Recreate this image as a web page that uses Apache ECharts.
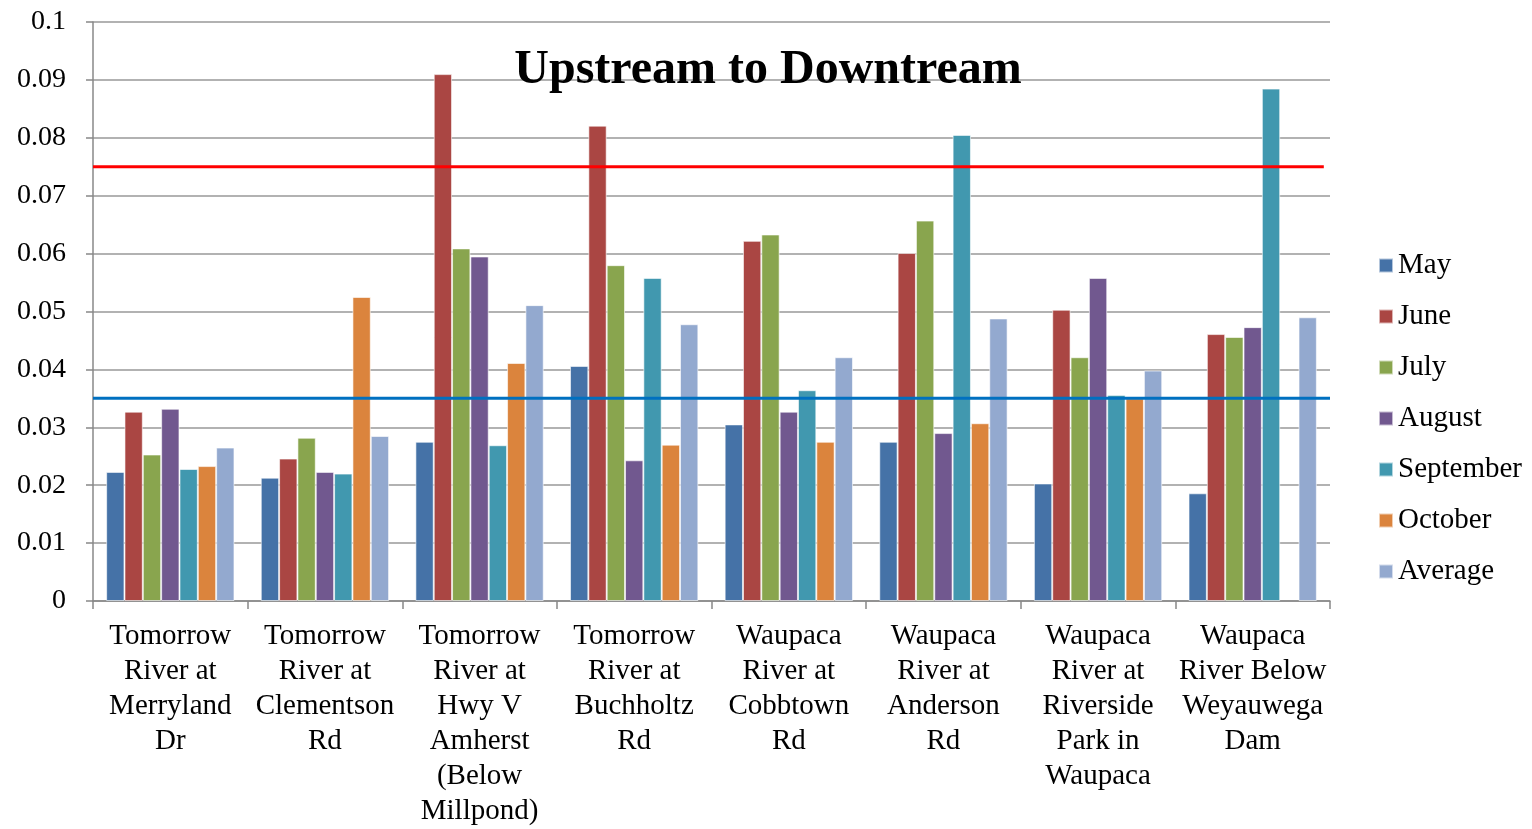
<!DOCTYPE html>
<html><head><meta charset="utf-8">
<script src="https://cdn.jsdelivr.net/npm/echarts@6/dist/echarts.min.js"></script>
<style>html,body{margin:0;padding:0;background:#fff}#c{width:1532px;height:829px}</style>
</head><body><div id="c"></div>
<script>
const categories = [
  "Tomorrow\nRiver at\nMerryland\nDr",
  "Tomorrow\nRiver at\nClementson\nRd",
  "Tomorrow\nRiver at\nHwy V\nAmherst\n(Below\nMillpond)",
  "Tomorrow\nRiver at\nBuchholtz\nRd",
  "Waupaca\nRiver at\nCobbtown\nRd",
  "Waupaca\nRiver at\nAnderson\nRd",
  "Waupaca\nRiver at\nRiverside\nPark in\nWaupaca",
  "Waupaca\nRiver Below\nWeyauwega\nDam"
];
const seriesNames = ["May","June","July","August","September","October","Average"];
const may       = [0.0223, 0.0213, 0.0275, 0.0406, 0.0305, 0.0275, 0.0203, 0.0186];
const june      = [0.0327, 0.0246, 0.0910, 0.0821, 0.0622, 0.0601, 0.0503, 0.0461];
const july      = [0.0253, 0.0282, 0.0609, 0.0580, 0.0633, 0.0657, 0.0421, 0.0456];
const august    = [0.0332, 0.0223, 0.0595, 0.0243, 0.0327, 0.0290, 0.0558, 0.0473];
const september = [0.0228, 0.0220, 0.0269, 0.0558, 0.0364, 0.0805, 0.0356, 0.0885];
const october   = [0.0233, 0.0525, 0.0411, 0.0270, 0.0275, 0.0307, 0.0350, null];
const average   = [0.0265, 0.0285, 0.0511, 0.0478, 0.0421, 0.0488, 0.0398, 0.0490];
const refRed    = 0.075;
const refBlue   = 0.035;
const colors = ["#4572A7","#AA4643","#89A54E","#71588F","#4198AF","#DB843D","#93A9CF"];
const allData = [may, june, july, august, september, october, average];

const chart = echarts.init(document.getElementById('c'));
const serif = "'Liberation Serif','Times New Roman',serif";
const series = seriesNames.map((n,i)=>({
  name:n, type:'bar', data:allData[i], barGap:'0%', barCategoryGap:'17%',
  itemStyle:{color:colors[i], borderColor:'rgba(255,255,255,0.6)', borderWidth:1},
  emphasis:{disabled:true}
}));
series.push({
  name:'refRed', type:'line', xAxisIndex:1, data:[[0,refRed],[0.995,refRed]],
  symbol:'none', silent:true, lineStyle:{color:'#FF0000', width:3}, z:5
});
series.push({
  name:'refBlue', type:'line', xAxisIndex:1, data:[[0,refBlue],[1,refBlue]],
  symbol:'none', silent:true, lineStyle:{color:'#0070C0', width:3}, z:5
});
chart.setOption({
  animation:false,
  color:colors,
  title:{text:'Upstream to Downtream', left:763, textAlign:'center', top:42,
    textStyle:{fontFamily:serif, fontSize:48, fontWeight:'bold', color:'#000'}},
  grid:{left:93, right:202, top:22, bottom:222, containLabel:false},
  legend:{orient:'vertical', left:1373, top:246, itemWidth:14, itemHeight:14, itemGap:22,
    icon:'rect', textStyle:{fontFamily:serif, fontSize:29, color:'#000'},
    data:seriesNames},
  xAxis:[{type:'category', data:categories,
    axisLine:{lineStyle:{color:'#888', width:1.5}},
    axisTick:{show:true, alignWithLabel:false, length:8, lineStyle:{color:'#888', width:1.5}},
    axisLabel:{interval:0, fontFamily:serif, fontSize:29, color:'#000', lineHeight:35, margin:18}},
    {type:'value', min:0, max:1, show:false}],
  yAxis:{type:'value', min:0, max:0.1, interval:0.01,
    axisLine:{show:true, lineStyle:{color:'#888', width:1.5}},
    axisTick:{show:true, length:7, lineStyle:{color:'#888', width:1.5}},
    splitLine:{lineStyle:{color:'#999', width:1.5}},
    axisLabel:{fontFamily:serif, fontSize:28, color:'#000', margin:27,
      formatter:v=>String(parseFloat(v.toFixed(2)))}},
  series:series
});
</script></body></html>
